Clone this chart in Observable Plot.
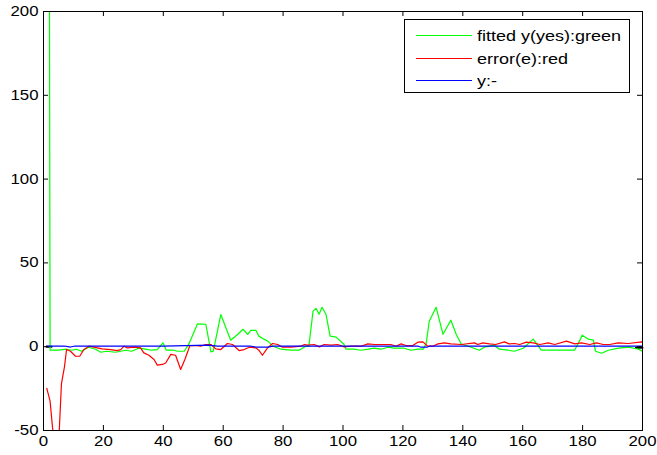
<!DOCTYPE html>
<html><head><meta charset="utf-8">
<script src="https://cdn.jsdelivr.net/npm/d3@7"></script>
<script src="https://cdn.jsdelivr.net/npm/@observablehq/plot@0.6"></script>
<style>
body{margin:0;background:#fff;font-family:"Liberation Sans",Arial,sans-serif;}
#wrap{position:relative;width:657px;height:455px;}
#legend{position:absolute;left:404px;top:19px;width:226px;height:74px;border:1px solid #000;background:#fff;box-sizing:border-box;font-size:15px;color:#000;}
.sw{position:absolute;left:11px;width:56px;height:0;border-top:1.3px solid;}
.lbl{position:absolute;left:72px;line-height:17px;white-space:nowrap;transform:scaleX(1.2);transform-origin:0 50%;}
</style>
</head><body>
<div id="wrap"></div>
<script>
const xTicks = [0,20,40,60,80,100,120,140,160,180,200];
const yTicks = [-50,0,50,100,150,200];
const legendLabels = ["fitted y(yes):green","error(e):red","y:-"];
const seriesColors = ["#00ff00","#ff0000","#0000ff"];

const fitted = [[2,200],[2.2,-2.1],[5,-2.1],[7.7,-1.5],[9.4,-2.1],[11,-1.5],[12.7,-2.7],[15,-0.3],[17.4,-1.5],[19.1,-3.3],[21.1,-2.7],[24.1,-3.3],[27.4,-2.1],[29.4,-2.7],[31.8,-0.9],[34.1,-1.5],[36,-2.1],[38,-1.8],[39.9,2.3],[41,-2.1],[43.5,-2.1],[44.7,-2.7],[47,-2.7],[48.5,1.5],[51.4,13.6],[54.2,13.4],[55.9,-3.1],[56.7,-2.7],[59.2,19.2],[62.5,3.9],[64.9,7.4],[66.6,10.4],[68.2,7.4],[69.2,9.8],[70.9,9.8],[71.9,6.3],[73.6,4.5],[74.9,3.3],[76.6,0.3],[79.3,-1.5],[82.6,-2.1],[85.3,-2.1],[87.6,0.3],[88.6,0.3],[90,21.2],[91,22.9],[92,19.4],[93,23.5],[94.3,19.4],[95.7,6.3],[97.7,5.7],[100.3,1.5],[101,-1.5],[103.7,-1.5],[106,-2.1],[108.4,-1.5],[110.4,-0.9],[112.7,-1.5],[115,-0.3],[117,-0.9],[120.4,-0.9],[122.7,-2.1],[125,-1.5],[126.8,-1.5],[127.8,2.1],[128.8,15.2],[131.1,23.5],[133.4,7.4],[136,15.8],[137.8,7.4],[139.5,1.5],[142.8,-0.3],[145.5,-2.1],[147.2,-0.3],[150.5,0.9],[152.2,-1.5],[155.2,-2.1],[157.2,-2.7],[160.2,-0.9],[163.5,4.5],[166.2,-2.1],[169.6,-2.1],[172.9,-2.1],[177.3,-2.1],[178.6,2.1],[179.9,6.9],[181.9,4.5],[183.6,3.9],[184.3,-2.7],[186.3,-3.9],[188.6,-2.1],[192,-0.9],[195.3,-0.3],[198.7,-1.5],[200,-2.7]];

const errorE = [[1.1,-24.9],[2.2,-32.5],[3,-48],[4,-62],[5,-60],[6,-22],[7,-12],[7.7,-1.7],[9,-2.7],[10.7,-5.7],[12.1,-5.7],[13.5,-1.7],[15.2,0.3],[18,-0.7],[19.6,-1.3],[22.4,-1.7],[24.6,-2.3],[25.8,-1.7],[26.9,0.3],[28,-0.7],[30.2,-0.3],[32.4,-0.7],[33.5,-3.7],[35.2,-5.1],[36.9,-7.6],[38,-11],[39.7,-10.6],[40.8,-9.7],[42.5,-4.6],[44.1,-5.1],[45.8,-13.6],[47.2,-7.6],[48.9,0.7],[50.8,0.7],[52.5,0.3],[54.2,1.3],[55.9,1.3],[57.5,-1.3],[59.2,-1.7],[61.4,1.9],[63.1,1.3],[65.3,-2.3],[67,-1.7],[68.7,-0.3],[70.9,-0.7],[72,-2.3],[73.1,-5.1],[74.8,-0.7],[76.5,1.9],[78.2,1.3],[79.8,-0.3],[82.6,-0.3],[86,0.3],[87.1,1.3],[88.2,0.9],[90.4,1.3],[92.1,-0.1],[93.7,1.3],[96,0.9],[98.2,1.3],[100.4,-0.1],[102.7,0.3],[106,0.3],[108.3,1.7],[110.5,1.3],[116,1.3],[117.7,0.3],[119.4,1.7],[121,0.7],[123.3,0.7],[125,2.7],[126.7,2.9],[128.3,0.3],[130,0.3],[131.7,1.7],[133.9,2.3],[136,1.7],[139.5,1.3],[143.9,2.3],[145,1.3],[146.7,2.3],[148.9,1.7],[151,1.3],[153.9,2.9],[155.5,1.7],[157.3,1.9],[159,1.3],[161.2,2.7],[163.5,2.3],[165.7,1.3],[168.5,2.3],[170.7,1.3],[174.6,3.3],[177.4,1.7],[179.6,2.3],[182.4,1.3],[184.6,2.3],[186.9,1.3],[189,1.3],[191.9,2.3],[195.3,1.9],[199.7,2.9],[200,2.7]];

const yActual = [[1,0.4],[7,0.4],[9,-0.2],[10.5,0.4],[40,0.4],[55,0.9],[58,0.4],[69,0.4],[71,-0.3],[75,-0.3],[77,0.4],[125,0.4],[126,-0.3],[128,-0.3],[129,0.4],[200,0.4]];

const blackEnds = [[1,0,"a"],[2.7,0,"a"],[197.8,-0.6,"b"],[200,-0.6,"b"]];

const innerW = 657 - 43 - 15, innerH = 455 - 11 - 25;

const chart = Plot.plot({
  width: 657, height: 455,
  marginLeft: 43, marginRight: 15, marginTop: 11, marginBottom: 25,
  x: {domain: [0, 200]},
  y: {domain: [-50, 200]},
  style: {fontFamily: "'Liberation Sans', Arial, sans-serif", fontSize: "14px", background: "white", color: "black", overflow: "visible"},
  marks: [
    Plot.line(blackEnds, {x: d => d[0], y: d => d[1], z: d => d[2], stroke: "black", strokeWidth: 2}),
    Plot.line(fitted, {x: d => d[0], y: d => d[1], stroke: seriesColors[0], strokeWidth: 1.2, clip: true}),
    Plot.line(errorE, {x: d => d[0], y: d => d[1], stroke: seriesColors[1], strokeWidth: 1.2, clip: true}),
    Plot.line(yActual, {x: d => d[0], y: d => d[1], stroke: seriesColors[2], strokeWidth: 1.2, clip: true}),
    Plot.tickX(xTicks, {x: d => d, insetTop: innerH - 5, stroke: "black"}),
    Plot.tickX(xTicks, {x: d => d, insetBottom: innerH - 5, stroke: "black"}),
    Plot.tickY(yTicks, {y: d => d, insetRight: innerW - 5, stroke: "black"}),
    Plot.tickY(yTicks, {y: d => d, insetLeft: innerW - 5, stroke: "black"}),
    Plot.axisX({ticks: xTicks, tickSize: 0, tickPadding: 6, label: null, tickFormat: d => String(d)}),
    Plot.axisY({ticks: yTicks, tickSize: 0, tickPadding: 5, label: null, tickFormat: d => String(d)}),
    Plot.frame({stroke: "black"})
  ]
});

const wrap = document.getElementById("wrap");
wrap.appendChild(chart);

// widen tick labels like the reference's stretched Arial
chart.querySelectorAll("text").forEach(t => {
  const L = t.getComputedTextLength();
  if (L > 0) {
    t.setAttribute("textLength", (L * 1.2).toFixed(1));
    t.setAttribute("lengthAdjust", "spacingAndGlyphs");
  }
});

const legend = document.createElement("div");
legend.id = "legend";
const rowY = [16, 39, 61];
legendLabels.forEach((t, i) => {
  const sw = document.createElement("div");
  sw.className = "sw";
  sw.style.top = (rowY[i] - 1) + "px";
  sw.style.borderTopColor = seriesColors[i];
  legend.appendChild(sw);
  const lb = document.createElement("div");
  lb.className = "lbl";
  lb.style.top = (rowY[i] - 9) + "px";
  lb.textContent = t;
  legend.appendChild(lb);
});
wrap.appendChild(legend);
</script>
</body></html>
